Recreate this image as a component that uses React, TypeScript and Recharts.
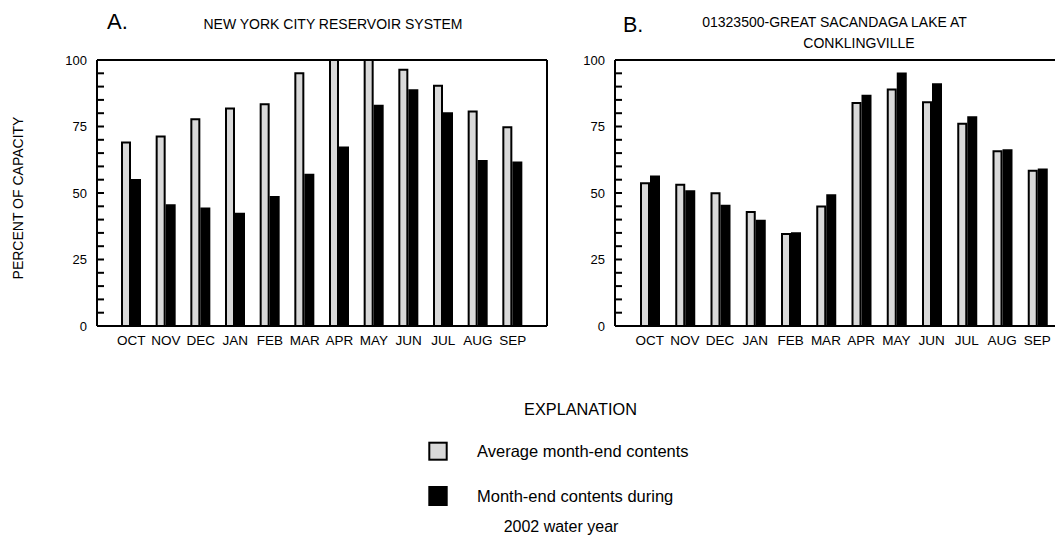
import React from 'react';
import { BarChart, Bar, XAxis, YAxis, ReferenceLine } from 'recharts';

const months = ['OCT', 'NOV', 'DEC', 'JAN', 'FEB', 'MAR', 'APR', 'MAY', 'JUN', 'JUL', 'AUG', 'SEP'];

// A. New York City reservoir system (percent of capacity)
const nycAverage = [69.0, 71.2, 77.7, 81.8, 83.4, 95.0, 100, 100, 96.3, 90.3, 80.6, 74.7];
const nyc2002 = [54.9, 45.4, 44.2, 42.2, 48.5, 56.9, 67.1, 82.8, 88.6, 80.0, 62.0, 61.5];

// B. 01323500 Great Sacandaga Lake at Conklingville (percent of capacity)
const sacAverage = [53.7, 53.1, 49.9, 42.9, 34.6, 44.9, 83.8, 88.9, 84.1, 76.0, 65.7, 58.4];
const sac2002 = [56.2, 50.7, 45.2, 39.6, 34.9, 49.2, 86.6, 94.9, 90.9, 78.5, 66.1, 58.8];

const yTicks = [0, 5, 10, 15, 20, 25, 30, 35, 40, 45, 50, 55, 60, 65, 70, 75, 80, 85, 90, 95, 100];
const yLabeled = [0, 25, 50, 75, 100];

const seriesNames = ['Average month-end contents', 'Month-end contents during', '2002 water year'];
const titleA = 'NEW YORK CITY RESERVOIR SYSTEM';
const titleB = ['01323500-GREAT SACANDAGA LAKE AT', 'CONKLINGVILLE'];

const FONT = '"Liberation Sans", Arial, Helvetica, sans-serif';
const AVG_FILL = '#d9d9d9';

type Margin = { top: number; right: number; bottom: number; left: number };

function Panel({ avg, cur, width, height, margin }: { avg: number[]; cur: number[]; width: number; height: number; margin: Margin }) {
  const data = months.map((m, i) => ({ month: m, avg: avg[i], cur: cur[i] }));
  const line = { stroke: '#000', strokeWidth: 2 };
  return (
    <BarChart width={width} height={height} data={data} margin={margin} barSize={8} barGap={2}>
      <XAxis
        dataKey="month"
        padding={{ left: 17, right: 17 }}
        axisLine={line}
        tickLine={false}
        tickSize={6}
        tickMargin={3}
        height={30}
        interval={0}
        tick={{ fill: '#000', fontSize: 13.5, fontFamily: FONT }}
      />
      <YAxis
        yAxisId="left"
        domain={[0, 100]}
        ticks={yTicks}
        interval={0}
        allowDataOverflow
        tickFormatter={(v: number) => (yLabeled.includes(v) ? String(v) : '')}
        width={40}
        tickSize={-7}
        tickMargin={17}
        axisLine={line}
        tickLine={line}
        tick={{ fill: '#000', fontSize: 13, fontFamily: FONT }}
      />
      <YAxis
        yAxisId="right"
        orientation="right"
        domain={[0, 100]}
        ticks={yTicks}
        interval={0}
        allowDataOverflow
        tick={false}
        width={2}
        tickSize={-7}
        axisLine={line}
        tickLine={line}
      />
      <Bar yAxisId="left" dataKey="avg" fill={AVG_FILL} stroke="#000" strokeWidth={2} isAnimationActive={false} />
      <Bar yAxisId="left" dataKey="cur" fill="#000" stroke="#000" strokeWidth={2} isAnimationActive={false} />
      <ReferenceLine yAxisId="left" y={100} stroke="#000" strokeWidth={2} />
    </BarChart>
  );
}

export default function App() {
  return (
    <div style={{ position: 'relative', width: 1055, height: 529, overflow: 'hidden', background: '#fff' }}>
      <div style={{ position: 'absolute', left: 0, top: 0 }}>
        <Panel avg={nycAverage} cur={nyc2002} width={552} height={360} margin={{ top: 52, right: 11, bottom: 12, left: 49 }} />
      </div>
      <div style={{ position: 'absolute', left: 552, top: 0 }}>
        <Panel avg={sacAverage} cur={sac2002} width={530} height={360} margin={{ top: 52, right: 16, bottom: 12, left: 15 }} />
      </div>
      <svg width={1055} height={529} style={{ position: 'absolute', left: 0, top: 0, pointerEvents: 'none' }}>
        <g transform="translate(-8,-8)" fontFamily={FONT} fill="#000">
          <text x={107} y={28.5} fontSize={22}>A.</text>
          <text x={333} y={28.5} fontSize={14} textAnchor="middle">{titleA}</text>
          <text x={623} y={31.5} fontSize={21.5}>B.</text>
          <text x={834.5} y={26.7} fontSize={14} textAnchor="middle">{titleB[0]}</text>
          <text x={859} y={48.3} fontSize={14} textAnchor="middle">{titleB[1]}</text>
          <text x={22.5} y={198} fontSize={14} textAnchor="middle" transform="rotate(-90 22.5 198)">PERCENT OF CAPACITY</text>

          <text x={580.5} y={415} fontSize={16.3} textAnchor="middle">EXPLANATION</text>
          <rect x={429.3} y={442.7} width={17.4} height={17} fill={AVG_FILL} stroke="#000" strokeWidth={2} />
          <text x={477} y={456.5} fontSize={16.5}>{seriesNames[0]}</text>
          <rect x={428.3} y={486} width={19.4} height={20} fill="#000" />
          <text x={477} y={501.7} fontSize={16.5}>{seriesNames[1]}</text>
          <text x={561} y={531.5} fontSize={16} textAnchor="middle">{seriesNames[2]}</text>
        </g>
      </svg>
    </div>
  );
}
